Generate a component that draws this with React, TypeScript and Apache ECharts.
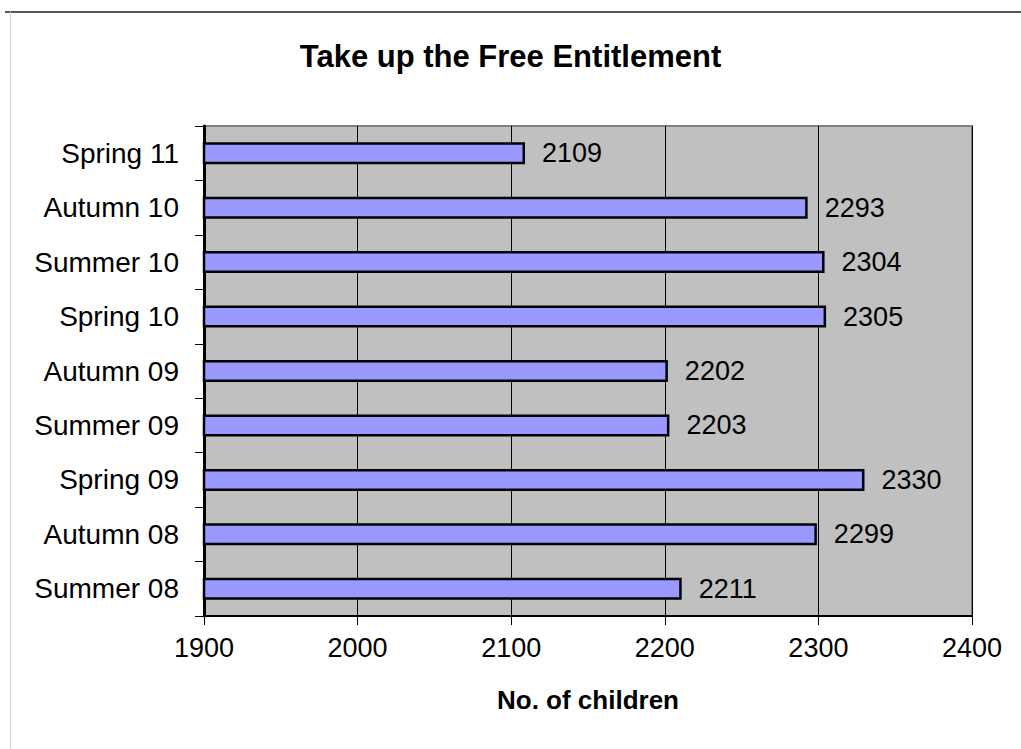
import React, { useEffect, useRef } from "react";
import * as echarts from "echarts";

const categories = [
  "Summer 08",
  "Autumn 08",
  "Spring 09",
  "Summer 09",
  "Autumn 09",
  "Spring 10",
  "Summer 10",
  "Autumn 10",
  "Spring 11",
];
const values = [2211, 2299, 2330, 2203, 2202, 2305, 2304, 2293, 2109];
const xMin = 1900;
const xMax = 2400;
const xStep = 100;
const titleText = "Take up the Free Entitlement";
const xAxisName = "No. of children";

export default function App() {
  const ref = useRef<HTMLDivElement>(null);
  useEffect(() => {
    document.body.style.margin = "0";
    const chart = echarts.init(ref.current!, null, { renderer: "svg" });
    const font = "'Liberation Sans', Arial, sans-serif";
    chart.setOption({
      animation: false,
      backgroundColor: "#ffffff",
      textStyle: { fontFamily: font },
      title: {
        text: titleText,
        left: "center",
        top: 36,
        textStyle: { fontSize: 31, fontWeight: "bold", color: "#000", fontFamily: font },
      },
      graphic: [
        { type: "line", shape: { x1: 5, y1: 12, x2: 1021, y2: 12 }, style: { stroke: "#222", lineWidth: 1.5 } },
        { type: "line", shape: { x1: 10.5, y1: 12, x2: 10.5, y2: 749 }, style: { stroke: "#d8d8d8", lineWidth: 1 } },
      ],
      grid: {
        left: 204,
        right: 49,
        top: 126,
        bottom: 133,
        show: true,
        backgroundColor: "#c0c0c0",
        borderColor: "#808080",
        borderWidth: 2,
      },
      xAxis: {
        type: "value",
        min: xMin,
        max: xMax,
        interval: xStep,
        name: xAxisName,
        nameLocation: "middle",
        nameGap: 71,
        nameTextStyle: { fontSize: 26, fontWeight: "bold", color: "#000", fontFamily: font },
        axisLine: { show: true, lineStyle: { color: "#000", width: 2 } },
        axisTick: { show: true, length: 9, lineStyle: { color: "#000", width: 1 } },
        axisLabel: {
          fontSize: 27,
          color: "#000",
          margin: 18,
          fontFamily: font,
          formatter: (v: number) => String(v),
        },
        splitLine: { show: true, lineStyle: { color: "#000", width: 1 } },
      },
      yAxis: {
        type: "category",
        data: categories,
        axisLine: { show: true, lineStyle: { color: "#000", width: 3 } },
        axisTick: { show: true, length: 9, alignWithLabel: false, lineStyle: { color: "#000", width: 1 } },
        axisLabel: { fontSize: 28, color: "#000", margin: 25, fontFamily: font },
        splitLine: { show: false },
      },
      series: [
        {
          type: "bar",
          data: values,
          barWidth: 22,
          itemStyle: { color: "#9999ff", borderColor: "#000", borderWidth: 2.5 },
          label: {
            show: true,
            position: "right",
            distance: 17,
            fontSize: 27,
            color: "#000",
            fontFamily: font,
          },
        },
      ],
    });
    return () => chart.dispose();
  }, []);
  return <div ref={ref} style={{ width: 1021, height: 749 }} />;
}
